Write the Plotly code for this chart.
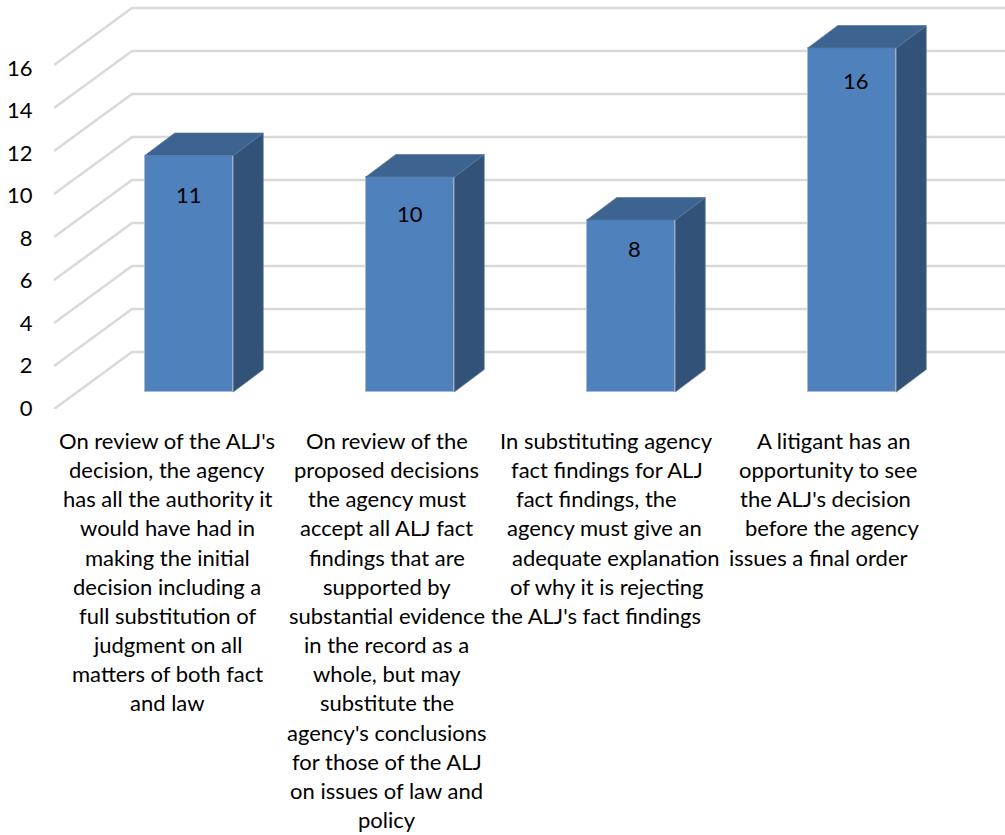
import plotly.graph_objects as go

# --- data ---
values = [11, 10, 8, 16]
y_ticks = [0, 2, 4, 6, 8, 10, 12, 14, 16]
label_col_1 = ["On review of the ALJ's", "decision, the agency", "has all the authority it",
               "would have had in", "making the initial", "decision including a",
               "full substitution of", "judgment on all", "matters of both fact", "and law"]
label_col_2 = ["On review of the", "proposed decisions", "the agency must", "accept all ALJ fact",
               "findings that are", "supported by", "substantial evidence", "in the record as a",
               "whole, but may", "substitute the", "agency's conclusions", "for those of the ALJ",
               "on issues of law and", "policy"]
label_col_3 = ["In substituting agency", "fact findings for ALJ", "fact findings, the",
               "agency must give an", "adequate explanation", "of why it is rejecting",
               "the ALJ's fact findings"]
label_col_4 = ["A litigant has an", "opportunity to see", "the ALJ's decision",
               "before the agency", "issues a final order"]
label_cols = [label_col_1, label_col_2, label_col_3, label_col_4]

# --- layout geometry (pixels) ---
W, H = 1005, 835
PLOT_L, PLOT_B = 54, 409
PX_PER_CAT, CAT0_PX = 221.0, 189.0
PX_PER_UNIT = 21.5
TICK_PX_PER_UNIT, TICK0_PX = 21.25, 408
BAR_BASE_PX = 392
WALL_DX_PX, WALL_DY_PX = 78, 57
BAR_W_PX, BAR_DX_PX, BAR_DY_PX = 88.5, 30, 22.5
FONT = "Lato"
FS = 22

x_of = lambda px: (px - CAT0_PX) / PX_PER_CAT
y_range = [0, PLOT_B / PX_PER_UNIT]
base_shift = (PLOT_B - BAR_BASE_PX) / PX_PER_UNIT
wall_dy = WALL_DY_PX / PX_PER_UNIT
xs = list(range(len(values)))

fig = go.Figure()

# carrier for the labelled value axis
fig.add_trace(go.Scatter(x=[xs[0]] * len(y_ticks), y=y_ticks, mode="none",
                         hoverinfo="skip", showlegend=False))

# back wall / side wall gridlines
gx, gy = [], []
for t in y_ticks:
    gx += [x_of(PLOT_L), x_of(PLOT_L + WALL_DX_PX), x_of(W), None]
    gy += [t, t + wall_dy, t + wall_dy, None]
fig.add_trace(go.Scatter(x=gx, y=gy, yaxis="y2", mode="lines", line=dict(color="#D9D9D9", width=2.6),
                         hoverinfo="skip", showlegend=False))

# front faces
fig.add_trace(go.Bar(x=xs, y=values, width=BAR_W_PX / PX_PER_CAT, yaxis="y3",
                     marker=dict(color="#4F81BD", line=dict(color="#A9B9CE", width=1)),
                     showlegend=False))

# side and top faces
bw = BAR_W_PX / PX_PER_CAT / 2
dx, dy = BAR_DX_PX / PX_PER_CAT, BAR_DY_PX / PX_PER_UNIT
sx, sy, tx, ty = [], [], [], []
for x, v in zip(xs, values):
    sx += [x + bw, x + bw + dx, x + bw + dx, x + bw, x + bw, None]
    sy += [0, dy, v + dy, v, 0, None]
    tx += [x - bw, x - bw + dx, x + bw + dx, x + bw, x - bw, None]
    ty += [v, v + dy, v + dy, v, v, None]
fig.add_trace(go.Scatter(x=sx, y=sy, yaxis="y3", mode="lines", fill="toself", fillcolor="#325277",
                         line=dict(color="#5F7A9B", width=0.7), hoverinfo="skip", showlegend=False))
fig.add_trace(go.Scatter(x=tx, y=ty, yaxis="y3", mode="lines", fill="toself", fillcolor="#3D6391",
                         line=dict(color="#56789F", width=0.7), hoverinfo="skip", showlegend=False))

# value labels
value_dx_px = [0, 0, 3, 3.5]
value_dy_px = [39, 36, 28, 32]
annos = []
for x, v, ox, oy in zip(xs, values, value_dx_px, value_dy_px):
    annos.append(dict(x=x, y=v, xref="x", yref="y3", text=str(v), showarrow=False,
                      xshift=ox, yshift=-oy, xanchor="center", yanchor="middle",
                      font=dict(family=FONT, size=FS, color="#000000")))

# category labels, line by line
col_centres_px = [
    [167] * 10,
    [386.5] * 14,
    [606.5, 606.7, 596.7, 604.7, 616, 607, 596],
    [833, 828, 825, 832, 818],
]
LINE0_PX, LINE_PITCH = 440.5, 29.15
for lines, centres in zip(label_cols, col_centres_px):
    for i, (txt, c) in enumerate(zip(lines, centres)):
        annos.append(dict(x=x_of(c), y=(PLOT_B - (LINE0_PX + i * LINE_PITCH)) / PLOT_B,
                          xref="x", yref="paper", text=txt, showarrow=False,
                          xanchor="center", yanchor="middle",
                          font=dict(family=FONT, size=FS, color="#000000")))

fig.update_layout(
    width=W, height=H, margin=dict(l=PLOT_L, r=0, t=0, b=H - PLOT_B, pad=0),
    paper_bgcolor="#FFFFFF", plot_bgcolor="#FFFFFF",
    showlegend=False, annotations=annos, bargap=0,
    font=dict(family=FONT, size=FS, color="#000000"),
    xaxis=dict(range=[x_of(PLOT_L), x_of(W)], visible=False, fixedrange=True),
    yaxis=dict(range=[(TICK0_PX - PLOT_B) / TICK_PX_PER_UNIT, TICK0_PX / TICK_PX_PER_UNIT],
               tickmode="array", tickvals=y_ticks, ticktext=[str(t) for t in y_ticks],
               showgrid=False, zeroline=False, showline=False,
               ticks="outside", ticklen=16, tickcolor="rgba(0,0,0,0)",
               tickfont=dict(family=FONT, size=FS, color="#000000"), fixedrange=True),
    yaxis2=dict(range=y_range, overlaying="y", visible=False, fixedrange=True),
    yaxis3=dict(range=[y_range[0] - base_shift, y_range[1] - base_shift], overlaying="y",
                visible=False, fixedrange=True),
)

fig.write_html("out.html", config={"displayModeBar": False},
               post_script="document.body.style.margin='0';document.body.style.overflow='hidden';"
                           "var s=document.createElement('style');"
                           "s.textContent='svg text{font-variant-ligatures:none}';"
                           "document.head.appendChild(s);")
